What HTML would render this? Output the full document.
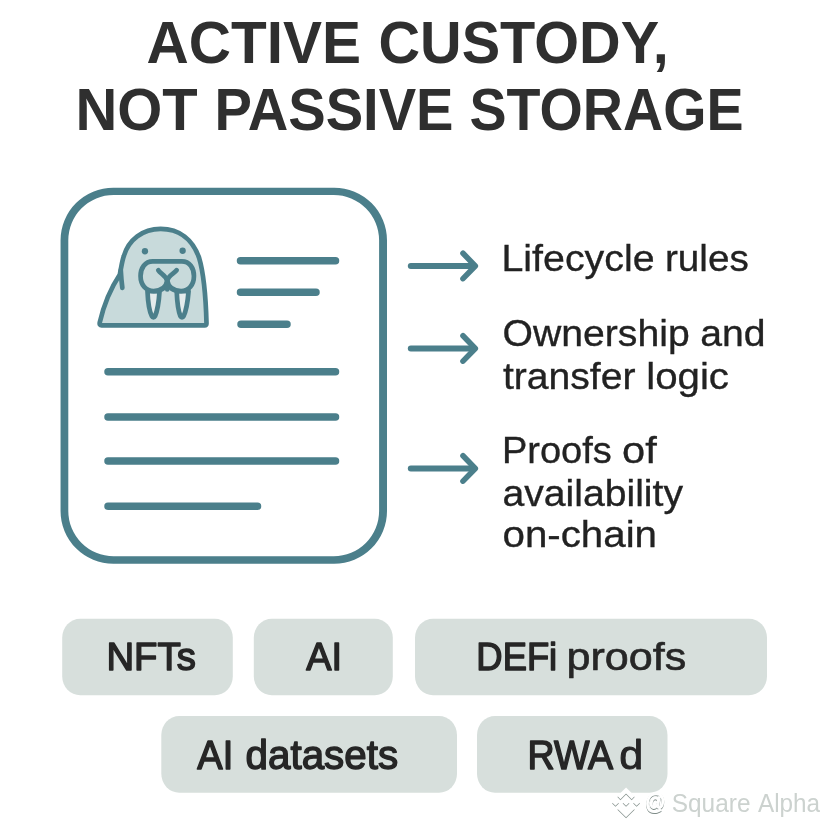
<!DOCTYPE html>
<html lang="en">
<head>
<meta charset="utf-8">
<title>Active custody, not passive storage</title>
<style>
  html, body { margin: 0; padding: 0; background: #ffffff; }
  body { width: 828px; height: 828px; overflow: hidden; }
  svg { display: block; will-change: transform; }
  text { font-family: "Liberation Sans", sans-serif; }
  .title { font-weight: 700; fill: #2f2f2f; }
  .item { font-weight: 400; fill: #222222; stroke: #222222; stroke-width: 0.35px; }
  .tag { font-weight: 400; fill: #262626; stroke: #262626; stroke-linejoin: round; }
  .pill { fill: #d7dfdc; }
  .ln { stroke: #4b7f8b; stroke-width: 7.5; stroke-linecap: round; fill: none; }
  .ar { stroke: #4b7f8b; stroke-width: 5.6; stroke-linecap: round; stroke-linejoin: round; fill: none; }
  .ar.sh { stroke-width: 6; }
  .wm { font-weight: 400; fill: #ccd2cf; }
  .at { fill: #ffffff; stroke: #ffffff; stroke-width: 1.5px; filter: drop-shadow(0.9px 1.1px 0.6px rgba(105,120,115,0.85)); }
</style>
</head>
<body>
<svg width="828" height="828" viewBox="0 0 828 828">
  <rect width="828" height="828" fill="#ffffff"/>

  <!-- Title -->
  <text class="title" y="63.0" font-size="59.6"><tspan x="146.50" textLength="214.50" lengthAdjust="spacingAndGlyphs">ACTIVE</tspan> <tspan x="378.48" textLength="290.30" lengthAdjust="spacingAndGlyphs">CUSTODY,</tspan></text>
  <text class="title" y="129.5" font-size="59.3"><tspan x="75.48" textLength="122.28" lengthAdjust="spacingAndGlyphs">NOT</tspan> <tspan x="214.47" textLength="239.05" lengthAdjust="spacingAndGlyphs">PASSIVE</tspan> <tspan x="469.50" textLength="274.00" lengthAdjust="spacingAndGlyphs">STORAGE</tspan></text>

  <!-- Document card -->
  <path fill="#4b7f8b" fill-rule="evenodd" d="M113.35 187.65 H334.2 A52.8 52.8 0 0 1 387 240.45 V511 A52.8 52.8 0 0 1 334.2 563.8 H113.35 A52.8 52.8 0 0 1 60.55 511 V240.45 A52.8 52.8 0 0 1 113.35 187.65 Z M113.6 194.95 H333.8 A45.3 45.3 0 0 1 379.1 240.25 V511 A45.3 45.3 0 0 1 333.8 556.3 H113.6 A45.3 45.3 0 0 1 68.3 511 V240.25 A45.3 45.3 0 0 1 113.6 194.95 Z"/>
  <path class="ln" d="M240.5 260.7H335.5 M240.5 292.2H316 M241 324.2H287 M108 371.8H335.5 M108 417H335.5 M108 461H335.5 M108 506.2H257.5"/>

  <!-- Walrus -->
  <g transform="translate(90 220) scale(0.157005 0.1578)" stroke="#4b7f8b" stroke-width="30" stroke-linecap="round" stroke-linejoin="round">
    <path fill="#c8dadb" d="M74 668 C64 668 60 662 62 650 C78 580 120 450 190 345 C198 305 204 262 215 230 C245 125 335 56 450 56 C570 56 655 125 695 240 C725 340 738 500 742 655 C742 664 738 668 730 668 Z"/>
    <path fill="none" d="M196 318 C198 355 202 400 206 430"/>
    <circle cx="350" cy="198" r="20" fill="#4b7f8b" stroke="none"/>
    <circle cx="590" cy="195" r="20" fill="#4b7f8b" stroke="none"/>
    <path fill="#e4ecec" d="M366 450 C369 520 377 578 394 610 C399 620 409 620 414 610 C431 572 439 512 443 450 Z"/>
    <path fill="#e4ecec" d="M552 450 C555 520 562 578 576 610 C581 620 591 620 596 610 C614 572 623 512 628 450 Z"/>
    <path fill="#c8dadb" d="M400 262 H585 C635 262 662 305 662 355 C662 410 630 450 580 450 C535 450 500 430 492 385 C484 430 450 450 405 450 C355 450 322 410 322 355 C322 305 350 262 400 262 Z"/>
    <path fill="none" d="M435 318 C450 342 486 350 492 388 C498 350 535 342 552 318 M492 385 V440"/>
  </g>

  <!-- Arrows -->
  <path class="ar sh" d="M410.8 265.95H473"/><path class="ar" d="M463 253.25 L475.3 265.95 L463 278.65"/>
  <path class="ar sh" d="M410.8 348.45H473"/><path class="ar" d="M463 335.75 L475.3 348.45 L463 361.15"/>
  <path class="ar sh" d="M410.8 468.45H473"/><path class="ar" d="M463 455.75 L475.3 468.45 L463 481.15"/>

  <!-- Right-hand items -->
  <text class="item" y="270.6" font-size="37.6"><tspan x="501.49" textLength="153.02" lengthAdjust="spacingAndGlyphs">Lifecycle</tspan> <tspan x="665.01" textLength="83.74" lengthAdjust="spacingAndGlyphs">rules</tspan></text>
  <text class="item" y="346.4" font-size="37.6"><tspan x="502.51" textLength="187.24" lengthAdjust="spacingAndGlyphs">Ownership</tspan> <tspan x="700.25" textLength="65.25" lengthAdjust="spacingAndGlyphs">and</tspan></text>
  <text class="item" y="388.8" font-size="37.6"><tspan x="503.01" textLength="132.47" lengthAdjust="spacingAndGlyphs">transfer</tspan> <tspan x="646.27" textLength="82.73" lengthAdjust="spacingAndGlyphs">logic</tspan></text>
  <text class="item" y="462.7" font-size="37.6"><tspan x="501.99" textLength="109.76" lengthAdjust="spacingAndGlyphs">Proofs</tspan> <tspan x="622.14" textLength="34.62" lengthAdjust="spacingAndGlyphs">of</tspan></text>
  <text class="item" y="505.7" font-size="37.6"><tspan x="502.52" textLength="180.47" lengthAdjust="spacingAndGlyphs">availability</tspan></text>
  <text class="item" y="547.0" font-size="37.6"><tspan x="502.50" textLength="154.50" lengthAdjust="spacingAndGlyphs">on-chain</tspan></text>

  <!-- Tag pills -->
  <rect class="pill" x="62.2" y="618.7" width="170.6" height="76.6" rx="18" ry="19"/>
  <rect class="pill" x="253.8" y="618.7" width="139" height="76.6" rx="18" ry="19"/>
  <rect class="pill" x="415" y="618.7" width="352" height="76.6" rx="18" ry="19"/>
  <rect class="pill" x="161.3" y="716" width="295.7" height="76.7" rx="18" ry="19"/>
  <rect class="pill" x="477" y="716" width="190.5" height="76.7" rx="18" ry="19"/>

  <text class="tag" y="670.4" font-size="39.7"><tspan x="106.44" textLength="89.34" lengthAdjust="spacingAndGlyphs" stroke-width="1.50">NFTs</tspan></text>
  <text class="tag" y="670.4" font-size="39.7"><tspan x="306.16" textLength="35.78" lengthAdjust="spacingAndGlyphs" stroke-width="1.50">AI</tspan></text>
  <text class="tag" y="670.4" font-size="39.7"><tspan x="476.36" textLength="80.84" lengthAdjust="spacingAndGlyphs" stroke-width="1.50">DEFi</tspan> <tspan x="566.51" textLength="119.74" lengthAdjust="spacingAndGlyphs" stroke-width="0.62">proofs</tspan></text>
  <text class="tag" y="768.5" font-size="41.0"><tspan x="197.36" textLength="35.94" lengthAdjust="spacingAndGlyphs" stroke-width="1.50">AI</tspan> <tspan x="245.57" textLength="152.56" lengthAdjust="spacingAndGlyphs" stroke-width="1.43">datasets</tspan></text>
  <text class="tag" y="768.5" font-size="41.0"><tspan x="527.46" textLength="83.62" lengthAdjust="spacingAndGlyphs" stroke-width="1.50">RWA</tspan> <tspan x="619.30" textLength="23.96" lengthAdjust="spacingAndGlyphs" stroke-width="0.89">d</tspan></text>

  <!-- Watermark -->
  <g fill="none" stroke="#ffffff" stroke-width="4.3" stroke-linejoin="miter" style="filter: drop-shadow(0.9px 1.2px 0.6px rgba(105,120,115,0.8));">
    <path d="M618.9 797.6 L626.05 790.5 L633.2 797.6"/>
    <path d="M618.9 807.2 L626.05 814.3 L633.2 807.2"/>
    <path fill="#ffffff" stroke="none" d="M612.1 802.4 l3.4 -3.4 l3.4 3.4 l-3.4 3.4 Z M622.65 802.4 l3.4 -3.4 l3.4 3.4 l-3.4 3.4 Z M633.2 802.4 l3.4 -3.4 l3.4 3.4 l-3.4 3.4 Z"/>
  </g>
  <text class="wm at" y="809.3" font-size="22.8"><tspan x="645.18" textLength="20.00" lengthAdjust="spacingAndGlyphs">@</tspan></text>
  <text class="wm" y="811.8" font-size="25"><tspan x="671.78" textLength="78.70" lengthAdjust="spacingAndGlyphs">Square</tspan> <tspan x="758.00" textLength="62.10" lengthAdjust="spacingAndGlyphs">Alpha</tspan></text>
</svg>
</body>
</html>
